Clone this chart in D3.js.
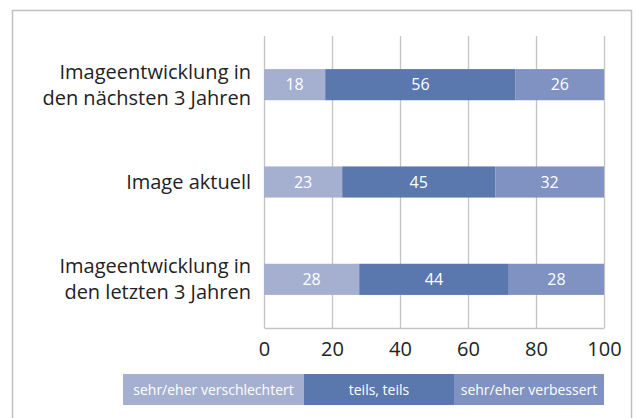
<!DOCTYPE html>
<html>
<head>
<meta charset="utf-8">
<script src="https://cdn.jsdelivr.net/npm/d3@7"></script>
<style>
  body { margin: 0; background: #fff; }
  svg { display: block; font-family: "Open Sans", sans-serif; }
</style>
</head>
<body>
<svg id="chart" width="638" height="418"></svg>
<script>
const categories = [
  ["Imageentwicklung in", "den nächsten 3 Jahren"],
  ["Image aktuell"],
  ["Imageentwicklung in", "den letzten 3 Jahren"]
];
const seriesNames = ["sehr/eher verschlechtert", "teils, teils", "sehr/eher verbessert"];
const worse = [18, 23, 28];
const neutral = [56, 45, 44];
const better = [26, 32, 28];
const xTicks = [0, 20, 40, 60, 80, 100];
const colors = ["#a5b0d1", "#5a78ae", "#7f92c1"];

let svg = d3.select("#chart");

// frame
svg.append("rect")
  .attr("x", 12.5).attr("y", 10.5)
  .attr("width", 619).attr("height", 420)
  .attr("fill", "none")
  .attr("stroke", "#c0c0c0")
  .attr("stroke-width", 1.5);

let x = d3.scaleLinear().domain([0, 100]).range([264, 604]);
let y = d3.scaleBand()
  .domain(d3.range(categories.length))
  .range([36, 328])
  .paddingInner(0.68)
  .paddingOuter(0.34);

// gridlines
svg.append("g").selectAll("line")
  .data(xTicks)
  .join("line")
  .attr("x1", d => x(d) + 0.5).attr("x2", d => x(d) + 0.5)
  .attr("y1", 36).attr("y2", 328)
  .attr("stroke", "#c4c4c4")
  .attr("stroke-width", 1.3);

// x axis
let xAxis = svg.append("g")
  .attr("transform", "translate(0,328)")
  .call(d3.axisBottom(x).tickValues(xTicks).tickSize(0).tickPadding(14));
xAxis.select(".domain").attr("stroke", "#c4c4c4").attr("stroke-width", 1.5);
xAxis.selectAll("text")
  .attr("font-size", 20)
  .attr("fill", "#222")
  .attr("font-family", "'Open Sans', sans-serif");

// stacked bars
let rows = categories.map((c, i) => ({ i: i, values: [worse[i], neutral[i], better[i]] }));
let stack = d3.stack().keys([0, 1, 2]).value((d, k) => d.values[k]);
let layers = stack(rows);

let g = svg.append("g").selectAll("g")
  .data(layers)
  .join("g")
  .attr("fill", (d, k) => colors[k]);

g.selectAll("rect")
  .data(d => d)
  .join("rect")
  .attr("x", d => x(d[0]))
  .attr("width", d => x(d[1]) - x(d[0]))
  .attr("y", d => y(d.data.i))
  .attr("height", y.bandwidth());

g.selectAll("text")
  .data(d => d)
  .join("text")
  .attr("x", d => (x(d[0]) + x(d[1])) / 2)
  .attr("y", d => y(d.data.i) + y.bandwidth() / 2)
  .attr("dy", "0.35em")
  .attr("text-anchor", "middle")
  .attr("fill", "#fff")
  .attr("font-size", 16)
  .text(d => d[1] - d[0]);

// category labels
let labels = svg.append("g").selectAll("text")
  .data(categories)
  .join("text")
  .attr("text-anchor", "end")
  .attr("font-size", 20)
  .attr("fill", "#222");
labels.each(function (lines, i) {
  let cy = y(i) + y.bandwidth() / 2;
  let lh = 26;
  d3.select(this).selectAll("tspan")
    .data(lines)
    .join("tspan")
    .attr("x", 251)
    .attr("y", (d, j) => cy + (j - (lines.length - 1) / 2) * lh)
    .attr("dy", "0.35em")
    .text(d => d);
});

// legend
let legendX = d3.scaleOrdinal().domain(seriesNames).range([123, 304, 454]);
let legendW = [181, 150, 150];
let legend = svg.append("g").selectAll("g")
  .data(seriesNames)
  .join("g")
  .attr("transform", d => "translate(" + legendX(d) + ",374)");
legend.append("rect")
  .attr("width", (d, i) => legendW[i])
  .attr("height", 31)
  .attr("fill", (d, i) => colors[i]);
legend.append("text")
  .attr("x", (d, i) => legendW[i] / 2)
  .attr("y", 16)
  .attr("dy", "0.35em")
  .attr("text-anchor", "middle")
  .attr("fill", "#fff")
  .attr("font-size", 14)
  .text(d => d);
</script>
</body>
</html>
